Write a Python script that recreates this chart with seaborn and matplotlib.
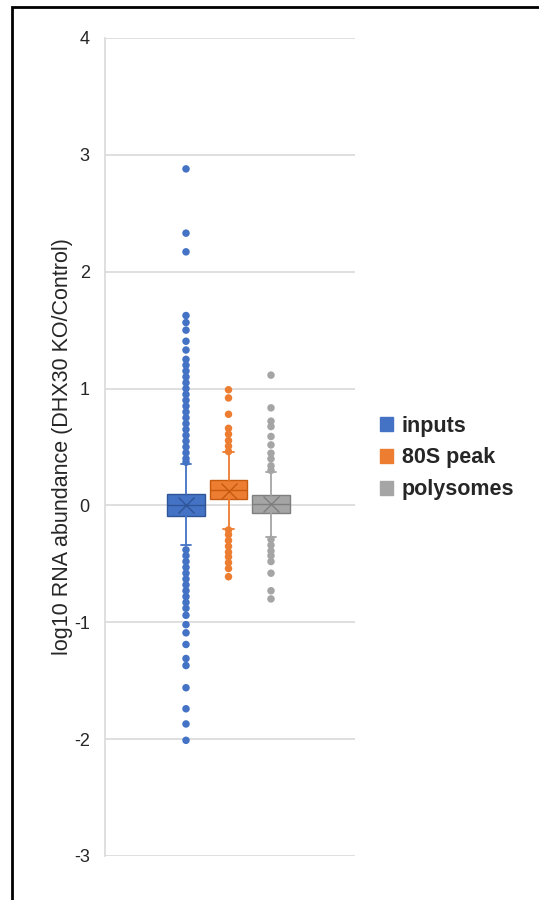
import numpy as np
import pandas as pd
import matplotlib
matplotlib.use('Agg')
import matplotlib.pyplot as plt
import matplotlib.patches as mpatches
import seaborn as sns

sns.set_style('white')
plt.rcParams['font.family'] = ['Liberation Sans', 'DejaVu Sans']

# 组名与颜色
groups = ['inputs', '80S peak', 'polysomes']
colors = ['#4472C4', '#ED7D31', '#A5A5A5']
dark_colors = ['#2F5597', '#C55A11', '#7F7F7F']

# 箱线图统计值
q1 = [-0.09, 0.054, -0.063]
median = [0.005, 0.136, 0.011]
q3 = [0.099, 0.219, 0.091]
mean = [0.0, 0.125, 0.01]
whisker_lo = [-0.337, -0.203, -0.271]
whisker_hi = [0.353, 0.453, 0.29]

# 离群点
out_inputs = [2.88, 2.33, 2.17, 1.625, 1.565, 1.50, 1.405, 1.33, 1.25, 1.20,
              1.15, 1.10, 1.05, 1.00, 0.95, 0.90, 0.85, 0.80, 0.75, 0.70,
              0.65, 0.60, 0.55, 0.50, 0.45, 0.40, 0.37,
              -0.38, -0.43, -0.48, -0.53, -0.58, -0.63, -0.68, -0.73, -0.78,
              -0.83, -0.88, -0.94, -1.02, -1.09, -1.19, -1.31, -1.37, -1.56,
              -1.74, -1.87, -2.01]
out_80s = [0.99, 0.92, 0.78, 0.66, 0.61, 0.555, 0.507, 0.461,
           -0.21, -0.25, -0.30, -0.35, -0.40, -0.44, -0.49, -0.54, -0.61]
out_poly = [1.115, 0.835, 0.721, 0.675, 0.59, 0.518, 0.447, 0.399, 0.339, 0.30,
            -0.29, -0.34, -0.39, -0.43, -0.48, -0.58, -0.73, -0.80]

yticks = [-3, -2, -1, 0, 1, 2, 3, 4]
ylabel = 'log10 RNA abundance (DHX30 KO/Control)'

fig = plt.figure(figsize=(5.39, 9.0), dpi=100)
ax = fig.add_axes([105 / 539, 44 / 900, 250 / 539, 818 / 900])

# 网格线
for t in yticks:
    ax.axhline(t, color='#D9D9D9', lw=1.2, zorder=0)

# 离群点（seaborn）
flier_df = pd.DataFrame({
    'group': ['inputs'] * len(out_inputs) + ['80S peak'] * len(out_80s) + ['polysomes'] * len(out_poly),
    'value': out_inputs + out_80s + out_poly,
})
sns.stripplot(data=flier_df, x='group', y='value', hue='group', order=groups,
              hue_order=groups, palette=colors, jitter=False, size=5.4,
              linewidth=0, ax=ax, legend=False, zorder=2)

# 箱体
stats = []
for i, g in enumerate(groups):
    stats.append({'label': g, 'q1': q1[i], 'med': median[i], 'q3': q3[i],
                  'mean': mean[i], 'whislo': whisker_lo[i], 'whishi': whisker_hi[i],
                  'fliers': []})
for i in range(3):
    ax.bxp([stats[i]], positions=[i], widths=0.89, patch_artist=True,
           showmeans=True, showfliers=False,
           boxprops=dict(facecolor=colors[i], edgecolor=dark_colors[i], lw=1.0),
           medianprops=dict(color=dark_colors[i], lw=1.0),
           whiskerprops=dict(color=colors[i], lw=1.3),
           capprops=dict(color=colors[i], lw=1.3),
           capwidths=0.25,
           meanprops=dict(marker='x', markeredgecolor=dark_colors[i], markersize=11,
                          markeredgewidth=1.0),
           zorder=3)

ax.set_xlim(-(186 - 105) / 42.5, (355 - 186) / 42.5)
ax.set_ylim(-3, 4)
ax.set_yticks(yticks)
ax.set_yticklabels([str(t) for t in yticks], fontsize=13)
ax.set_xticks([])
ax.set_xlabel('')
ax.set_ylabel(ylabel, fontsize=15.5, labelpad=0.5)
ax.tick_params(axis='y', length=0, pad=11)
for s in ['top', 'right', 'bottom']:
    ax.spines[s].set_visible(False)
ax.spines['left'].set_color('#D9D9D9')
ax.spines['left'].set_linewidth(1.2)

# 图例
handles = [mpatches.Patch(facecolor=c, edgecolor=c) for c in colors]
leg = fig.legend(handles, groups, loc='center left', bbox_to_anchor=(361 / 539, 1 - 458 / 900),
                 frameon=False, prop={'weight': 'bold', 'size': 15.5},
                 handlelength=0.6, handleheight=0.6, handletextpad=0.4, labelspacing=0.5)

# 外框
fig.patches.append(mpatches.Rectangle((12 / 539, -0.1), 1.2, 1 - 7 / 900 + 0.1,
                                      transform=fig.transFigure, fill=False,
                                      edgecolor='black', lw=2))

fig.savefig('out.png', dpi=100)
